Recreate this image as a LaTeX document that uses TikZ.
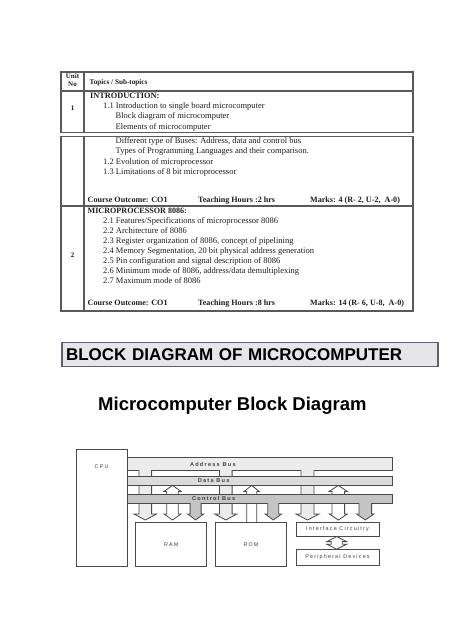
\documentclass[tikz,border=0pt]{standalone}
\usepackage{fontspec}
\setmainfont{Liberation Serif}
\newfontfamily\barfont{Liberation Sans}
\newfontfamily\busfont[LetterSpace=22]{Liberation Sans}
\usetikzlibrary{calc}

\definecolor{ink}{HTML}{1E1E1E}
\definecolor{tabline}{HTML}{5A5A5A}
\definecolor{barline}{HTML}{5C6070}
\definecolor{barfill}{HTML}{E6E6E6}
\definecolor{blkline}{HTML}{4A4A4A}
\definecolor{lblgray}{HTML}{404040}
\definecolor{addrfill}{HTML}{ECECEC}
\definecolor{datafill}{HTML}{DCDCDC}
\definecolor{ctrlfill}{HTML}{C4C4C4}

% hollow bus arrows: [style](x:top:bottom:half stem:half head)
\def\hlen{6}
\def\arrdown[#1](#2:#3:#4:#5:#6){\draw[#1] ({#2-#5},#3) -- ({#2-#5},{#4-\hlen}) -- ({#2-#6},{#4-\hlen}) -- (#2,#4) -- ({#2+#6},{#4-\hlen}) -- ({#2+#5},{#4-\hlen}) -- ({#2+#5},#3);}
\def\arrup[#1](#2:#3:#4:#5:#6){\draw[#1] ({#2-#5},#4) -- ({#2-#5},{#3+\hlen}) -- ({#2-#6},{#3+\hlen}) -- (#2,#3) -- ({#2+#6},{#3+\hlen}) -- ({#2+#5},{#3+\hlen}) -- ({#2+#5},#4);}
\def\arrboth[#1](#2:#3:#4:#5:#6){\draw[#1] (#2,#3) -- ({#2+#6},{#3+\hlen}) -- ({#2+#5},{#3+\hlen}) -- ({#2+#5},{#4-\hlen}) -- ({#2+#6},{#4-\hlen}) -- (#2,#4) -- ({#2-#6},{#4-\hlen}) -- ({#2-#5},{#4-\hlen}) -- ({#2-#5},{#3+\hlen}) -- ({#2-#6},{#3+\hlen}) -- cycle;}

\tikzset{
  tab/.style={draw=tabline, line width=1.1pt},
  txtrow/.style={anchor=mid west, inner sep=0pt, text=ink, font=\fontsize{8.5}{10}\selectfont},
  boldrow/.style={txtrow, font=\bfseries\fontsize{8.1}{10}\selectfont},
  unitno/.style={inner sep=0pt, text=ink, align=center, font=\bfseries\fontsize{7}{8}\selectfont},
  blk/.style={draw=blkline, line width=0.9pt, fill=white, inner sep=0pt},
  bus/.style={draw=blkline, line width=0.8pt, inner sep=0pt},
  buslabel/.style={text=lblgray, font=\busfont\bfseries\fontsize{5.6}{6}\selectfont},
  blklabel/.style={text=lblgray, font=\busfont\fontsize{5.4}{6}\selectfont},
  fat/.style={draw=blkline, line width=0.8pt, line join=miter},
}

\begin{document}
\begin{tikzpicture}[x=1pt,y=-1pt]
		\useasboundingbox (0,0) rectangle (474,632);
		\fill[white] (0,0) rectangle (474,632);
		
		%%%%% TABLE %%%%%
		\draw[tab] (61,72) rectangle (413,132.5);
		\draw[tab] (61,91) -- (413,91);
		\draw[tab] (84,72) -- (84,132.5);
		\draw[tab] (61,136.5) rectangle (413,311);
		\draw[tab] (61,206) -- (413,206);
		\draw[tab] (84,136.5) -- (84,311);
		
		\node[unitno] (unit) at (72.5,80.5) {Unit\\No};
		\node[boldrow, font=\bfseries\fontsize{7.2}{8}\selectfont] (topics) at (89.5,82) {Topics / Sub-topics};
		
		\node[unitno] (one) at (72.5,108) {1};
		\node[boldrow, font=\bfseries\fontsize{8.3}{9}\selectfont] (intro) at (90,95.8) {INTRODUCTION:};
		\node[txtrow] (s11) at (103,106) {1.1 Introduction to single board microcomputer};
		\node[txtrow] (s11a) at (115.5,116.4) {Block diagram of microcomputer};
		\node[txtrow] (s11b) at (115.5,126.8) {Elements of microcomputer};
		
		\node[txtrow] (s11c) at (115.5,141) {Different type of Buses: Address, data and control bus};
		\node[txtrow] (s11d) at (115.5,151.5) {Types of Programming Languages and their comparison.};
		\node[txtrow] (s12) at (103,162) {1.2 Evolution of microprocessor};
		\node[txtrow] (s13) at (103,172.5) {1.3 Limitations of 8 bit microprocessor};
		
		\node[boldrow] (co1) at (87.5,200.5) {Course Outcome: CO1};
		\node[boldrow] (hrs1) at (198,200.5) {Teaching Hours :2 hrs};
		\node[boldrow] (mk1) at (310,200.5) {Marks: 4 (R- 2, U-2,~ A-0)};
		
		\node[unitno] (two) at (72.5,255) {2};
		\node[boldrow] (micro) at (87.5,211.5) {MICROPROCESSOR 8086:};
		\foreach \txt [count=\i] in {2.1 Features/Specifications of microprocessor 8086, 2.2 Architecture of 8086, {2.3 Register organization of 8086, concept of pipelining}, {2.4 Memory Segmentation, 20 bit physical address generation}, 2.5 Pin configuration and signal description of 8086, {2.6 Minimum mode of 8086, address/data demultiplexing}, 2.7 Maximum mode of 8086}
			\node[txtrow] (s2\i) at (103,{221.5+9.9*(\i-1)}) {\txt};
		
		\node[boldrow] (co2) at (87.5,303.5) {Course Outcome: CO1};
		\node[boldrow] (hrs2) at (198,303.5) {Teaching Hours :8 hrs};
		\node[boldrow] (mk2) at (310,303.5) {Marks: 14 (R- 6, U-8,~ A-0)};
		
		%%%%% HEADINGS %%%%%
		\node[draw=barline, fill=barfill, line width=1.2pt, minimum width=376pt, minimum height=24pt, inner xsep=4pt, text width=368pt, align=left, font=\barfont\bfseries\fontsize{17}{18}\selectfont] (bar) at (250,354.7) {BLOCK DIAGRAM OF MICROCOMPUTER};
		\node[anchor=west, inner sep=0pt, font=\barfont\bfseries\fontsize{18.5}{19}\selectfont] (title) at (98,406) {Microcomputer Block Diagram};
		
		%%%%% BLOCK DIAGRAM %%%%%
		\node[blk, minimum width=51pt, minimum height=117pt, label={[blklabel, anchor=center, yshift=-18pt]north:CPU}] (cpu) at (101.6,507.5) {};
		
		% address bus and its stems
		\node[bus, fill=addrfill, minimum width=265.7pt, minimum height=13pt, label={[buslabel, xshift=-47pt]center:Address Bus}] (abus) at (259.85,464.2) {};
		\arrdown[fat, fill=addrfill](145.3:470:520:6.3:11.3);
		\arrdown[fat, fill=addrfill](225.8:470:520:6.3:11);
		\arrdown[fat, fill=addrfill](307.5:470:520:6.5:11.5);
		
		% data bus
		\node[bus, fill=datafill, minimum width=265.3pt, minimum height=8.3pt, label={[buslabel, xshift=-46pt]center:Data Bus}] (dbus) at (259.65,480.85) {};
		\arrboth[fat, fill=white](172.5:485.4:520:5.8:8.5);
		\arrup[fat, fill=white](251.7:485.4:522.3:5:7.5);
		\arrboth[fat, fill=white](338.3:485.4:520:6.3:9);
		
		% control bus
		\node[bus, fill=ctrlfill, minimum width=265.3pt, minimum height=9pt, label={[buslabel, xshift=-46pt]center:Control Bus}] (cbus) at (259.65,498.8) {};
		\arrdown[fat, fill=ctrlfill](195.6:503:520:5.5:8);
		\arrdown[fat, fill=ctrlfill](273.3:503:520:5.5:8.2);
		\arrdown[fat, fill=ctrlfill](365.3:503:520:6.3:8.7);
		
		% memories and i/o
		\node[blk, minimum width=71pt, minimum height=43.7pt, font=\busfont\fontsize{5.4}{6}\selectfont, text=lblgray] (ram) at (171.2,544.2) {RAM};
		\node[blk, minimum width=71.4pt, minimum height=43.7pt, font=\busfont\fontsize{5.4}{6}\selectfont, text=lblgray] (rom) at (251,544.2) {ROM};
		\node[blk, minimum width=83pt, minimum height=13.7pt, font=\busfont\fontsize{5.4}{6}\selectfont, text=lblgray] (intf) at (337.5,529.2) {Interface Circuitry};
		\node[blk, minimum width=83pt, minimum height=16.4pt, font=\busfont\fontsize{5.4}{6}\selectfont, text=lblgray] (periph) at (337.5,557.5) {Peripheral Devices};
		\def\hlen{5}
		\arrboth[fat, fill=white](336.7:536.6:549.2:5.5:10);
		
	\end{tikzpicture}
\end{document}
